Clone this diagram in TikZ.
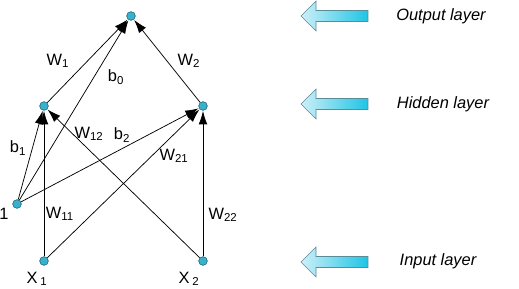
\documentclass[tikz,border=0pt]{standalone}
\usepackage{fontspec}
\setmainfont{Liberation Sans}
\usetikzlibrary{arrows.meta}
\definecolor{neuroncol}{RGB}{56,178,204}
\definecolor{neuronedge}{RGB}{20,90,110}
\definecolor{bandlight}{RGB}{205,240,248}
\definecolor{banddark}{RGB}{30,196,228}
\tikzset{
  neuron/.style={circle, fill=neuroncol, draw=neuronedge, line width=0.4pt, inner sep=0pt, minimum size=6.5pt},
  link/.style={-{Latex[length=10pt,width=6.5pt]}, line width=0.55pt, shorten >=0.3pt},
  wlabel/.style={font=\fontsize{12.3}{14}\selectfont},
  layertext/.style={font=\fontsize{12.3}{14}\selectfont\itshape}
}
\newcommand{\layerarrow}[1]{%
  \shade[left color=bandlight, right color=banddark, draw=neuronedge!70, line width=0.4pt]
    (301,#1) -- (316,#1-15) -- (316,#1-5.5) -- (368,#1-5.5) -- (368,#1+5.5)
    -- (316,#1+5.5) -- (316,#1+15) -- cycle;}
\begin{document}
\begin{tikzpicture}[x=0.75pt, y=-0.75pt]
    \useasboundingbox (0,0) rectangle (519,289);

    % Neurons
    \node[neuron] (out)  at (131,16)  {};
    \node[neuron] (hid1) at (44,106)  {};
    \node[neuron] (hid2) at (203,106) {};
    \node[neuron] (bias) at (17,204)  {};
    \node[neuron] (in1)  at (44,261)  {};
    \node[neuron] (in2)  at (203,261) {};

    % Connections into output
    \draw[link] (hid1) -- (out);
    \draw[link] (hid2) -- (out);
    \draw[link] (bias) -- (out);

    % Connections into hidden layer
    \draw[link] (bias) -- (hid1);
    \draw[link] (bias) -- (hid2);
    \draw[link] (in1) -- (hid1);
    \draw[link] (in1) -- (hid2);
    \draw[link] (in2) -- (hid1);
    \draw[link] (in2) -- (hid2);

    % Weight labels
    \node[wlabel] (lw1)  at (58,61)   {W\textsubscript{1}};
    \node[wlabel] (lb0)  at (116,77)  {b\textsubscript{0}};
    \node[wlabel] (lw2)  at (189,61)  {W\textsubscript{2}};
    \node[wlabel] (lb1)  at (18,148)  {b\textsubscript{1}};
    \node[wlabel] (lw12) at (89,134)  {W\textsubscript{12}};
    \node[wlabel] (lb2)  at (122,135) {b\textsubscript{2}};
    \node[wlabel] (lw21) at (174,156) {W\textsubscript{21}};
    \node[wlabel] (lw11) at (60,214)  {W\textsubscript{11}};
    \node[wlabel] (lw22) at (223,215) {W\textsubscript{22}};
    \node[wlabel] (lone) at (4,214)   {1};
    \node[wlabel] (lx1)  at (37,279)  {X\,\textsubscript{1}};
    \node[wlabel] (lx2)  at (189,279) {X\,\textsubscript{2}};

    % Layer markers
    \layerarrow{16}
    \layerarrow{104}
    \layerarrow{262}
    \node[layertext] (tout) at (441,16)  {Output layer};
    \node[layertext] (thid) at (443,104) {Hidden layer};
    \node[layertext] (tin)  at (438,261) {Input layer};
\end{tikzpicture}
\end{document}
